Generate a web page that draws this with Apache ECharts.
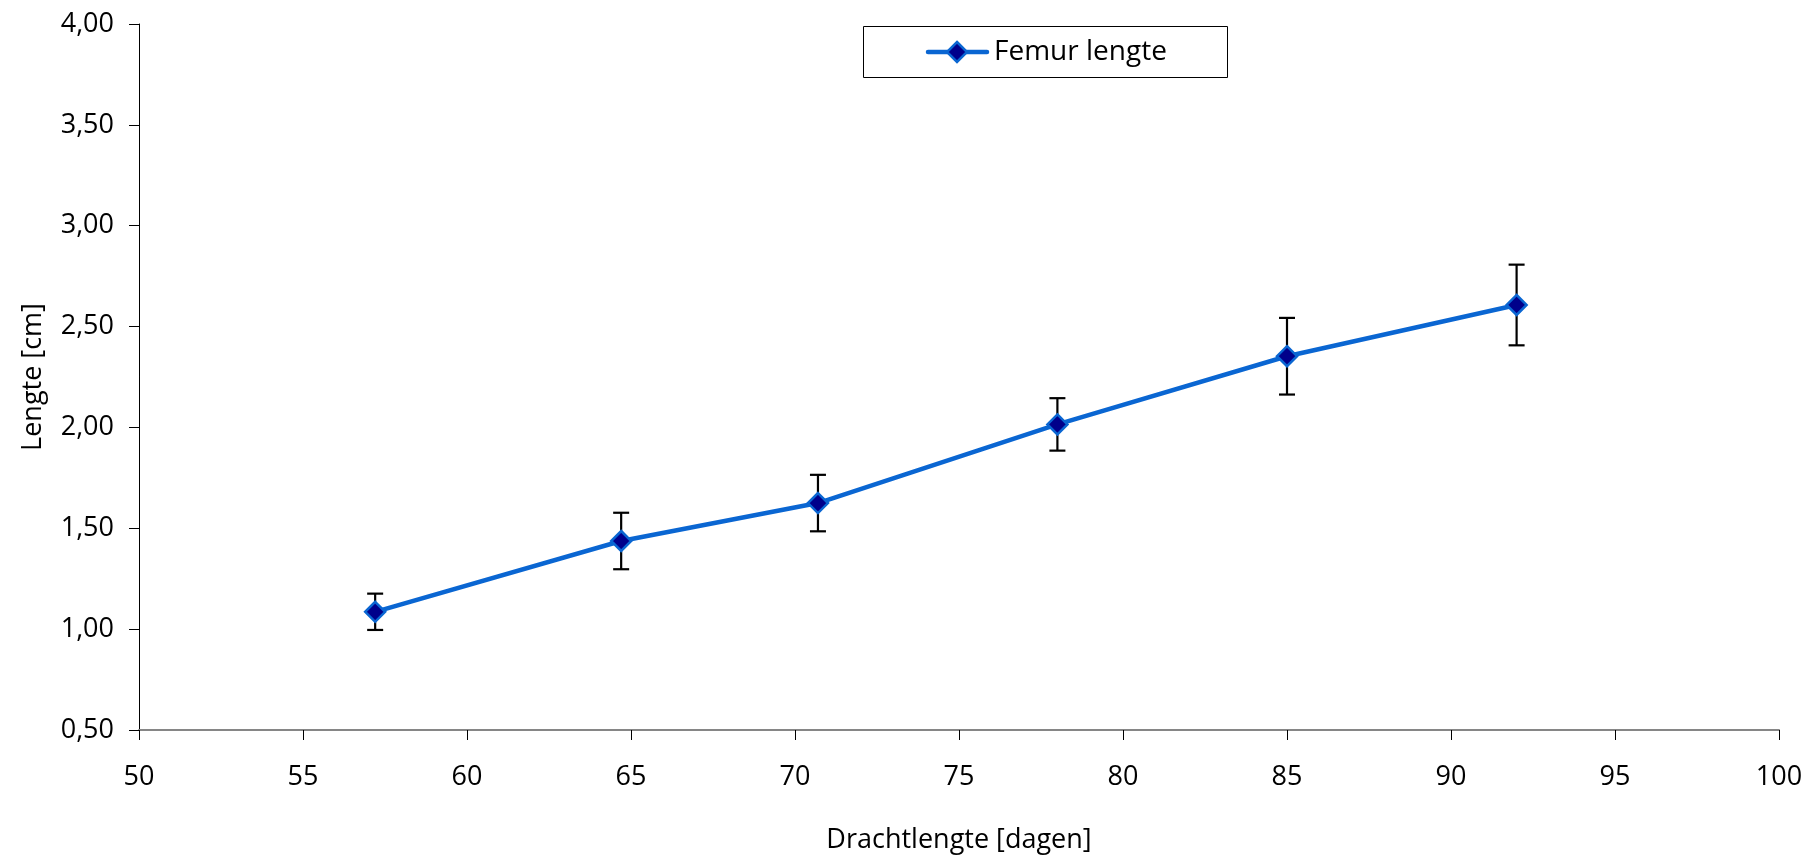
<!DOCTYPE html>
<html>
<head>
<meta charset="utf-8">
<script src="https://cdn.jsdelivr.net/npm/echarts@6/dist/echarts.min.js"></script>
<style>
  html, body { margin: 0; padding: 0; background: #ffffff; }
  #chart { width: 1810px; height: 859px; }
</style>
</head>
<body>
<div id="chart"></div>
<script>
// Gestation length (days) vs. femur length (cm), with ± error per point
const days = [57.2, 64.7, 70.7, 78.0, 85.0, 92.0];
const femurLength = [1.086, 1.437, 1.625, 2.015, 2.353, 2.607];
const femurError = [0.09, 0.14, 0.14, 0.13, 0.19, 0.20];

const seriesName = 'Femur lengte';
const xTitle = 'Drachtlengte [dagen]';
const yTitle = 'Lengte [cm]';

const FONT = '"Open Sans", Lato, sans-serif';

const lineData = days.map((d, i) => [d, femurLength[i]]);
const errData = days.map((d, i) => [d, femurLength[i] - femurError[i], femurLength[i] + femurError[i]]);

const chart = echarts.init(document.getElementById('chart'), null, { renderer: 'canvas' });

chart.setOption({
  backgroundColor: '#ffffff',
  animation: false,
  textStyle: { fontFamily: FONT, color: '#000' },
  grid: { left: 139, right: 31, top: 24, bottom: 127, containLabel: false },
  graphic: [{
    type: 'rect',
    shape: { x: 863.5, y: 26.5, width: 364, height: 51 },
    style: { fill: '#fff', stroke: '#000', lineWidth: 1 },
    z: 1
  }],
  xAxis: {
    type: 'value',
    min: 50, max: 100, interval: 5,
    name: xTitle,
    nameLocation: 'middle',
    nameGap: 97,
    nameTextStyle: { fontFamily: FONT, fontSize: 27, color: '#000' },
    axisLine: { show: true, onZero: false, lineStyle: { color: '#868686', width: 2 } },
    axisTick: { show: true, inside: false, length: 10, lineStyle: { color: '#000', width: 1 } },
    axisLabel: { margin: 34, fontFamily: FONT, fontSize: 27, color: '#000' },
    splitLine: { show: false }
  },
  yAxis: {
    type: 'value',
    min: 0.5, max: 4, interval: 0.5,
    name: yTitle,
    nameLocation: 'middle',
    nameGap: 92,
    nameRotate: 90,
    nameTextStyle: { fontFamily: FONT, fontSize: 27, color: '#000' },
    axisLine: { show: true, onZero: false, lineStyle: { color: '#000', width: 1 } },
    axisTick: { show: true, inside: false, length: 10, lineStyle: { color: '#000', width: 1 } },
    axisLabel: {
      margin: 25, fontFamily: FONT, fontSize: 27, color: '#000',
      formatter: v => v.toFixed(2).replace('.', ',')
    },
    splitLine: { show: false }
  },
  series: [
    {
      name: 'error',
      type: 'custom',
      z: 2,
      data: errData,
      encode: { x: 0, y: [1, 2] },
      renderItem: function (params, api) {
        const x = api.value(0);
        const lo = api.coord([x, api.value(1)]);
        const hi = api.coord([x, api.value(2)]);
        const half = 8;
        const st = { stroke: '#000', lineWidth: 2.2 };
        return {
          type: 'group',
          children: [
            { type: 'line', shape: { x1: lo[0], y1: lo[1], x2: hi[0], y2: hi[1] }, style: st },
            { type: 'line', shape: { x1: hi[0] - half, y1: hi[1], x2: hi[0] + half, y2: hi[1] }, style: st },
            { type: 'line', shape: { x1: lo[0] - half, y1: lo[1], x2: lo[0] + half, y2: lo[1] }, style: st }
          ]
        };
      }
    },
    {
      name: seriesName,
      type: 'line',
      z: 3,
      data: lineData,
      symbol: 'diamond',
      symbolSize: 20,
      showAllSymbol: true,
      lineStyle: { color: '#0A66D2', width: 4.5 },
      itemStyle: { color: '#00008B', borderColor: '#0A66D2', borderWidth: 2.5 },
      emphasis: { disabled: true }
    },
    // legend sample drawn as a short line with a diamond marker
    {
      name: 'legendSample',
      type: 'custom',
      coordinateSystem: 'none',
      silent: true,
      z: 6,
      data: [0],
      renderItem: function () {
        const cy = 52;
        return {
          type: 'group',
          children: [
            { type: 'line', shape: { x1: 928, y1: cy, x2: 987, y2: cy },
              style: { stroke: '#0A66D2', lineWidth: 4.5, lineCap: 'round' } },
            { type: 'polygon', shape: { points: [[957, cy - 10], [967, cy], [957, cy + 10], [947, cy]] },
              style: { fill: '#00008B', stroke: '#0A66D2', lineWidth: 2.5 } },
            { type: 'text', style: { x: 994, y: cy, text: seriesName, fontFamily: FONT, fontSize: 28,
              fill: '#000', verticalAlign: 'middle', align: 'left' } }
          ]
        };
      }
    }
  ]
});
</script>
</body>
</html>
